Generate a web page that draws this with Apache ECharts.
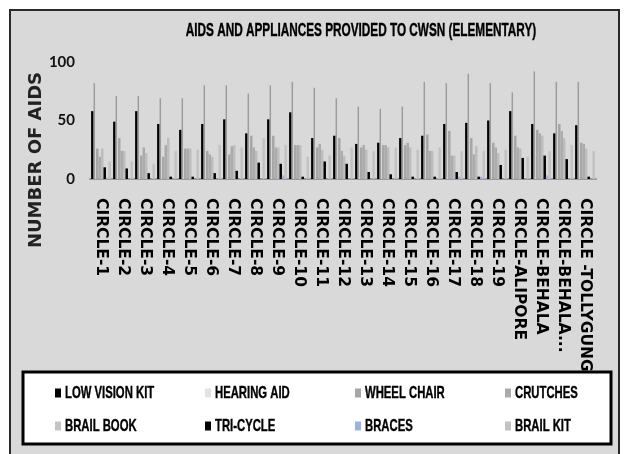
<!DOCTYPE html>
<html>
<head>
<meta charset="utf-8">
<script src="https://cdn.jsdelivr.net/npm/echarts@6/dist/echarts.min.js"></script>
<style>
  html, body { margin: 0; padding: 0; background: #ffffff; }
  #chart { width: 633px; height: 454px; }
</style>
</head>
<body>
<div id="chart"></div>
<script>
// Circles (blocks) of the district
const categories = [
  'CIRCLE-1', 'CIRCLE-2', 'CIRCLE-3', 'CIRCLE-4', 'CIRCLE-5', 'CIRCLE-6',
  'CIRCLE-7', 'CIRCLE-8', 'CIRCLE-9', 'CIRCLE-10', 'CIRCLE-11', 'CIRCLE-12',
  'CIRCLE-13', 'CIRCLE-14', 'CIRCLE-15', 'CIRCLE-16', 'CIRCLE-17', 'CIRCLE-18',
  'CIRCLE-19', 'CIRCLE-ALIPORE', 'CIRCLE-BEHALA', 'CIRCLE-BEHALA...', 'CIRCLE -TOLLYGUNGE'
];

// Number of aids provided per circle
const lowVisionKit = [58, 49, 58, 47, 42, 47, 51, 39, 51, 57, 35, 37, 30, 31, 35, 37, 47, 48, 50, 58, 47, 39, 46];
const hearingAid   = [82, 71, 71, 69, 69, 80, 80, 73, 80, 83, 78, 69, 62, 60, 62, 83, 82, 90, 82, 74, 92, 83, 83];
const wheelChair   = [26, 35, 20, 19, 26, 24, 21, 37, 37, 29, 27, 35, 27, 29, 29, 38, 41, 35, 31, 37, 42, 47, 31];
const crutches     = [19, 24, 27, 29, 26, 21, 28, 27, 27, 29, 30, 24, 29, 29, 31, 24, 20, 21, 27, 27, 39, 41, 30];
const brailBook    = [26, 24, 22, 35, 26, 19, 29, 24, 27, 29, 25, 20, 25, 27, 27, 24, 20, 28, 22, 26, 37, 35, 26];
const triCycle     = [10, 9, 5, 2, 2, 5, 7, 14, 13, 2, 15, 13, 6, 4, 2, 2, 6, 2, 12, 18, 20, 17, 2];
const braces       = [1, 0, 0, 0, 0, 0, 0, 0, 3, 0, 0, 0, 0, 0, 0, 0, 2, 2, 0, 0, 3, 0, 0];
const brailKit     = [15, 15, 13, 24, 25, 29, 27, 35, 29, 19, 20, 27, 24, 27, 25, 27, 24, 24, 25, 19, 24, 29, 24];

const yTicks = [0, 50, 100];

const heavy = "'Liberation Sans', Arial, sans-serif";
const narrow = "Lato, 'Liberation Sans', sans-serif";
const wide = "'DejaVu Sans', 'Verdana', sans-serif";

const hearingFill = {
  type: 'linear', x: 0, y: 0, x2: 1, y2: 0,
  colorStops: [
    { offset: 0, color: '#9c9c9c' },
    { offset: 0.45, color: '#9c9c9c' },
    { offset: 0.46, color: '#d6d6d6' },
    { offset: 1, color: '#d6d6d6' }
  ]
};

const seriesDefs = [
  { name: 'LOW VISION KIT', data: lowVisionKit, color: '#000000', legendColor: '#000000' },
  { name: 'HEARING AID',    data: hearingAid,   color: hearingFill, legendColor: '#e2e2e2' },
  { name: 'WHEEL CHAIR',    data: wheelChair,   color: '#a6a6a6', legendColor: '#a6a6a6' },
  { name: 'CRUTCHES',       data: crutches,     color: '#ababab', legendColor: '#ababab' },
  { name: 'BRAIL BOOK',     data: brailBook,    color: '#bdbdbd', legendColor: '#c4c4c4' },
  { name: 'TRI-CYCLE',      data: triCycle,     color: '#000000', legendColor: '#000000' },
  { name: 'BRACES',         data: braces,       color: '#9fb2d8', legendColor: '#9fb2d8' },
  { name: 'BRAIL KIT',      data: brailKit,     color: '#c2c2c2', legendColor: '#c2c2c2' }
];

// Key: 4 columns x 2 rows inside the white box, condensed bold captions
const keyCols = [55, 205, 355, 505];
const keyRows = [393, 426];

const keyItems = seriesDefs.map((s, i) => ({
  type: 'group',
  z: 60,
  x: keyCols[i % 4],
  y: keyRows[Math.floor(i / 4)],
  children: [
    {
      type: 'rect',
      z: 60,
      shape: { x: 0, y: -4.5, width: 6, height: 9 },
      style: { fill: s.legendColor }
    },
    {
      type: 'text',
      z: 60,
      x: 10,
      y: 0,
      scaleX: 0.665,
      style: {
        text: s.name,
        fontFamily: heavy,
        fontWeight: 'bold',
        fontSize: 17,
        fill: '#000',
        stroke: '#000',
        lineWidth: 0.4,
        align: 'left',
        verticalAlign: 'middle'
      }
    }
  ]
}));

const chart = echarts.init(document.getElementById('chart'), null, { renderer: 'canvas' });

chart.setOption({
  backgroundColor: '#ffffff',
  animation: false,
  grid: { left: 90, right: 37, top: 62, bottom: 275, containLabel: false },
  xAxis: {
    type: 'category',
    data: categories,
    axisLine: { lineStyle: { color: '#9a9a9a', width: 2 } },
    axisTick: { show: false },
    axisLabel: {
      rotate: -90,
      interval: 0,
      margin: 19,
      fontFamily: wide,
      fontWeight: 'bold',
      fontSize: 15.5,
      color: '#000'
    }
  },
  yAxis: {
    type: 'value',
    min: 0,
    max: 100,
    interval: 50,
    axisLine: { show: false },
    axisTick: { show: false },
    splitLine: { show: false },
    axisLabel: {
      margin: 15,
      fontFamily: narrow,
      fontWeight: 'bold',
      fontSize: 15,
      color: '#111',
      formatter: v => (yTicks.indexOf(v) >= 0 ? String(v) : '')
    }
  },
  series: seriesDefs.map(s => ({
    name: s.name,
    type: 'bar',
    data: s.data,
    barGap: '0%',
    barCategoryGap: '10%',
    itemStyle: { color: s.color },
    z: 2
  })),
  graphic: [
    {
      type: 'rect',
      z: -10,
      shape: { x: 10, y: 10, width: 609, height: 470 },
      style: { fill: '#d9d9d9', stroke: '#2a2a2a', lineWidth: 2 }
    },
    {
      type: 'text',
      z: 5,
      x: 361,
      y: 31,
      scaleX: 0.654,
      style: {
        text: 'AIDS AND APPLIANCES PROVIDED TO CWSN (ELEMENTARY)',
        fontFamily: heavy,
        fontWeight: 'bold',
        fontSize: 18,
        fill: '#000',
        stroke: '#000',
        lineWidth: 0.4,
        align: 'center',
        verticalAlign: 'middle'
      }
    },
    {
      type: 'text',
      z: 5,
      x: 36,
      y: 160,
      rotation: Math.PI / 2,
      style: {
        text: 'NUMBER OF AIDS',
        fontFamily: wide,
        fontWeight: 'bold',
        fontSize: 18,
        fill: '#222',
        align: 'center',
        verticalAlign: 'middle'
      }
    },
    {
      type: 'rect',
      z: 50,
      shape: { x: 23, y: 372, width: 588, height: 72 },
      style: { fill: '#ffffff', stroke: '#000000', lineWidth: 3 }
    }
  ].concat(keyItems)
});
</script>
</body>
</html>
